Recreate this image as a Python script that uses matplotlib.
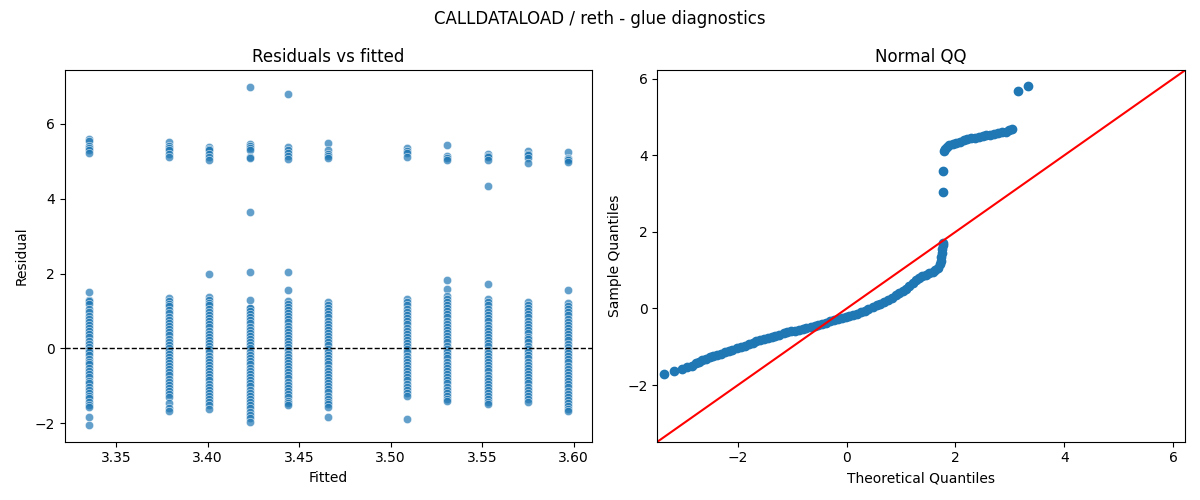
"""Residual diagnostics for CALLDATALOAD / reth glue model."""

import matplotlib

matplotlib.use("Agg")

import matplotlib.pyplot as plt
import seaborn as sns

TITLE = "CALLDATALOAD / reth - glue diagnostics"

# fitted levels and the residuals seen at each level
FITTED_LEVELS = [3.335, 3.379, 3.401, 3.423, 3.444, 3.466, 3.509, 3.531, 3.553, 3.575, 3.597]

RES_3335 = [5.60, 5.53, 5.40, 5.36, 5.31, 5.22,
            1.51, 1.30, 1.26, 1.18, 1.05, 0.97, 0.88, 0.80, 0.71, 0.62, 0.55, 0.46, 0.38,
            0.30, 0.21, 0.12, 0.05, -0.03, -0.10, -0.18, -0.27, -0.35, -0.42, -0.51, -0.60,
            -0.68, -0.77, -0.86, -0.93, -1.02, -1.10, -1.19, -1.27, -1.33, -1.42, -1.50,
            -1.56, -1.82, -2.04]
RES_3379 = [5.51, 5.42, 5.36, 5.31, 5.19, 5.11,
            1.35, 1.28, 1.20, 1.13, 1.02, 0.95, 0.85, 0.77, 0.68, 0.60, 0.52, 0.43, 0.35,
            0.26, 0.18, 0.10, 0.02, -0.06, -0.14, -0.23, -0.31, -0.40, -0.47, -0.56, -0.64,
            -0.72, -0.81, -0.90, -0.97, -1.06, -1.14, -1.22, -1.30, -1.45, -1.58, -1.67]
RES_3401 = [5.38, 5.32, 5.29, 5.19, 5.11, 5.04, 2.00,
            1.38, 1.30, 1.22, 1.15, 1.06, 0.98, 0.90, 0.82, 0.73, 0.65, 0.57, 0.48, 0.40,
            0.31, 0.23, 0.15, 0.06, -0.02, -0.10, -0.19, -0.27, -0.35, -0.44, -0.52, -0.60,
            -0.69, -0.77, -0.85, -0.94, -1.02, -1.10, -1.19, -1.27, -1.35, -1.44, -1.52, -1.63]
RES_3423 = [6.98, 5.46, 5.40, 5.36, 5.29, 5.12, 5.09, 3.65, 2.05, 1.30, 1.08, 1.08,
            1.00, 0.92, 0.84, 0.75, 0.67, 0.58, 0.50, 0.42, 0.33, 0.25, 0.16, 0.08, 0.00,
            -0.09, -0.17, -0.26, -0.34, -0.42, -0.51, -0.59, -0.68, -0.76, -0.84, -0.93,
            -1.01, -1.10, -1.18, -1.26, -1.35, -1.43, -1.52, -1.60, -1.69, -1.77, -1.86, -1.96]
RES_3444 = [6.79, 5.38, 5.29, 5.22, 5.13, 5.06, 2.05, 1.56,
            1.26, 1.19, 1.11, 1.03, 0.95, 0.86, 0.78, 0.70, 0.61, 0.53, 0.45, 0.36, 0.28,
            0.20, 0.11, 0.03, -0.05, -0.14, -0.22, -0.30, -0.39, -0.47, -0.55, -0.64, -0.72,
            -0.80, -0.89, -0.97, -1.05, -1.14, -1.22, -1.30, -1.39, -1.45, -1.51]
RES_3466 = [5.50, 5.31, 5.20, 5.15, 5.09,
            1.24, 1.16, 1.08, 0.99, 0.91, 0.83, 0.74, 0.66, 0.58, 0.49, 0.41, 0.33, 0.24,
            0.16, 0.08, -0.01, -0.09, -0.17, -0.26, -0.34, -0.42, -0.51, -0.59, -0.67, -0.76,
            -0.84, -0.92, -1.01, -1.09, -1.17, -1.26, -1.34, -1.42, -1.49, -1.56, -1.82]
RES_3509 = [5.35, 5.28, 5.22, 5.11,
            1.31, 1.23, 1.15, 1.06, 0.98, 0.90, 0.81, 0.73, 0.65, 0.56, 0.48, 0.40, 0.31,
            0.23, 0.15, 0.06, -0.02, -0.10, -0.19, -0.27, -0.35, -0.44, -0.52, -0.60, -0.69,
            -0.77, -0.85, -0.94, -1.02, -1.10, -1.19, -1.27, -1.88]
RES_3531 = [5.44, 5.13, 5.08, 5.04, 1.84, 1.59,
            1.41, 1.33, 1.25, 1.16, 1.08, 1.00, 0.91, 0.83, 0.74, 0.66, 0.58, 0.49, 0.41,
            0.33, 0.24, 0.16, 0.07, -0.01, -0.09, -0.18, -0.26, -0.35, -0.43, -0.51, -0.60,
            -0.68, -0.76, -0.85, -0.93, -1.02, -1.10, -1.18, -1.27, -1.34, -1.40]
RES_3553 = [5.20, 5.15, 5.11, 5.04, 4.35, 1.71,
            1.31, 1.23, 1.15, 1.06, 0.98, 0.89, 0.81, 0.73, 0.64, 0.56, 0.48, 0.39, 0.31,
            0.22, 0.14, 0.06, -0.03, -0.11, -0.19, -0.28, -0.36, -0.44, -0.53, -0.61, -0.70,
            -0.78, -0.86, -0.95, -1.03, -1.11, -1.20, -1.28, -1.36, -1.42, -1.49]
RES_3575 = [5.28, 5.20, 5.17, 5.09, 4.95,
            1.24, 1.16, 1.08, 0.99, 0.91, 0.83, 0.74, 0.66, 0.57, 0.49, 0.41, 0.32, 0.24,
            0.16, 0.07, -0.01, -0.10, -0.18, -0.26, -0.35, -0.43, -0.51, -0.60, -0.68, -0.77,
            -0.85, -0.93, -1.02, -1.10, -1.18, -1.27, -1.35, -1.43]
RES_3597 = [5.26, 5.08, 5.06, 5.03, 4.97, 1.55,
            1.22, 1.14, 1.06, 0.97, 0.89, 0.80, 0.72, 0.64, 0.55, 0.47, 0.38, 0.30, 0.22,
            0.13, 0.05, -0.04, -0.12, -0.20, -0.29, -0.37, -0.46, -0.54, -0.62, -0.71, -0.79,
            -0.88, -0.96, -1.04, -1.13, -1.21, -1.30, -1.38, -1.46, -1.55, -1.62, -1.67]

RESIDUAL_GROUPS = [RES_3335, RES_3379, RES_3401, RES_3423, RES_3444, RES_3466,
                   RES_3509, RES_3531, RES_3553, RES_3575, RES_3597]

# QQ points (theoretical, sample)
QQ_THEORETICAL = [
    -3.36, -3.17, -3.02, -2.93, -2.84, -2.78, -2.72, -2.66, -2.59, -2.52, -2.45, -2.38,
    -2.31, -2.24, -2.17, -2.10, -2.02, -1.94, -1.87, -1.80, -1.73, -1.66, -1.59, -1.52,
    -1.45, -1.38, -1.31, -1.24, -1.16, -1.09, -1.02, -0.95, -0.88, -0.81, -0.74, -0.66,
    -0.59, -0.52, -0.45, -0.38, -0.31, -0.23, -0.16, -0.09, -0.02, 0.05, 0.12, 0.19,
    0.26, 0.33, 0.40, 0.48, 0.55, 0.62, 0.69, 0.76, 0.83, 0.90, 0.96, 1.03, 1.09, 1.15,
    1.21, 1.27, 1.33, 1.39, 1.45, 1.52, 1.58, 1.63, 1.68, 1.71, 1.73, 1.74, 1.75, 1.76,
    1.77, 1.77, 1.77, 1.77, 1.78, 1.80, 1.84, 1.89, 1.95, 2.01, 2.08, 2.15, 2.22, 2.29,
    2.36, 2.43, 2.50, 2.57, 2.64, 2.71, 2.78, 2.85, 2.92, 2.98, 3.03, 3.15, 3.33,
]
QQ_SAMPLE = [
    -1.71, -1.64, -1.57, -1.53, -1.50, -1.42, -1.39, -1.35, -1.31, -1.28, -1.25, -1.21,
    -1.18, -1.14, -1.11, -1.08, -1.04, -1.00, -0.97, -0.93, -0.90, -0.86, -0.83, -0.79,
    -0.77, -0.74, -0.71, -0.68, -0.65, -0.62, -0.60, -0.58, -0.55, -0.53, -0.51, -0.49,
    -0.46, -0.43, -0.40, -0.37, -0.34, -0.31, -0.28, -0.25, -0.22, -0.20, -0.17, -0.14,
    -0.10, -0.06, -0.02, 0.03, 0.09, 0.13, 0.18, 0.23, 0.28, 0.34, 0.40, 0.46, 0.52, 0.59,
    0.67, 0.74, 0.80, 0.84, 0.88, 0.92, 0.96, 1.00, 1.06, 1.15, 1.25, 1.35, 1.45, 1.55,
    1.65, 1.70, 3.03, 3.60, 4.12, 4.17, 4.23, 4.27, 4.30, 4.33, 4.36, 4.39, 4.42, 4.44,
    4.46, 4.48, 4.50, 4.52, 4.54, 4.56, 4.58, 4.60, 4.62, 4.65, 4.68, 5.68, 5.82,
]

QQ_LIMITS = (-3.48, 6.22)


def main():
    fitted = []
    residual = []
    for level, group in zip(FITTED_LEVELS, RESIDUAL_GROUPS):
        fitted.extend([level] * len(group))
        residual.extend(group)

    fig, (ax_res, ax_qq) = plt.subplots(1, 2, figsize=(12, 5), dpi=100)

    sns.scatterplot(x=fitted, y=residual, ax=ax_res, alpha=0.7)
    ax_res.axhline(0, color="black", linestyle="--", linewidth=1)
    ax_res.set_title("Residuals vs fitted")
    ax_res.set_xlabel("Fitted")
    ax_res.set_ylabel("Residual")

    ax_qq.plot(QQ_THEORETICAL, QQ_SAMPLE, marker="o", linestyle="none", color="C0")
    ax_qq.plot(QQ_LIMITS, QQ_LIMITS, color="red")
    ax_qq.set_xlim(QQ_LIMITS)
    ax_qq.set_ylim(QQ_LIMITS)
    ax_qq.set_title("Normal QQ")
    ax_qq.set_xlabel("Theoretical Quantiles")
    ax_qq.set_ylabel("Sample Quantiles")

    fig.suptitle(TITLE)
    fig.tight_layout()
    fig.savefig("out.png", dpi=100)
    plt.close(fig)


if __name__ == "__main__":
    main()
